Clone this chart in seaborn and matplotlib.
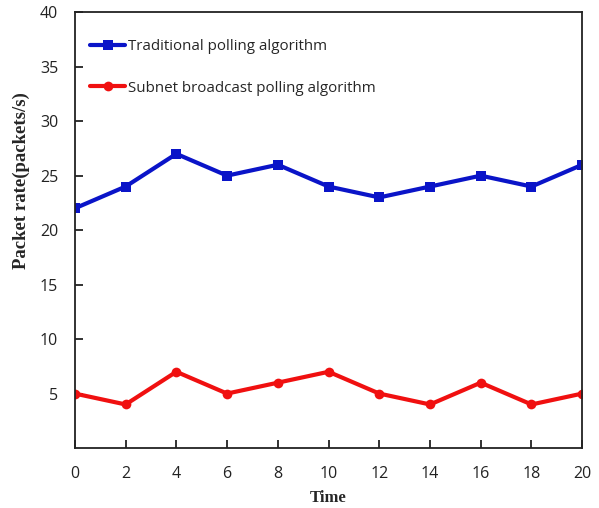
import matplotlib
matplotlib.use("Agg")
import matplotlib.pyplot as plt
import seaborn as sns
import pandas as pd

time = [0, 2, 4, 6, 8, 10, 12, 14, 16, 18, 20]
traditional = [22, 24, 27, 25, 26, 24, 23, 24, 25, 24, 26]
subnet = [5, 4, 7, 5, 6, 7, 5, 4, 6, 4, 5]
series_names = ["Traditional polling algorithm", "Subnet broadcast polling algorithm"]
x_ticks = [0, 2, 4, 6, 8, 10, 12, 14, 16, 18, 20]
y_ticks = [5, 10, 15, 20, 25, 30, 35, 40]

df = pd.DataFrame({
    "Time": time * 2,
    "Rate": traditional + subnet,
    "Series": [series_names[0]] * len(time) + [series_names[1]] * len(time),
})

sns.set_style("white")
plt.rcParams['font.family'] = ['Open Sans', 'DejaVu Sans']

fig = plt.figure(figsize=(5.99, 5.08), dpi=100)
ax = fig.add_axes([0.125, 0.118, 0.847, 0.858])

sns.lineplot(data=df, x="Time", y="Rate", hue="Series", style="Series",
             palette={series_names[0]: "#0a14c8", series_names[1]: "#f01010"},
             markers={series_names[0]: "s", series_names[1]: "o"},
             dashes=False, linewidth=3, markersize=7, markeredgewidth=0, ax=ax)

ax.set_xlim(0, 20)
ax.set_ylim(0, 40)
ax.set_xticks(x_ticks)
ax.set_yticks(y_ticks)
ax.tick_params(bottom=True, left=True, direction="in", length=6, width=1.3,
               labelsize=11.5, color="#222222", labelcolor="#222222")
ax.tick_params(axis="x", pad=13)
ax.tick_params(axis="y", pad=12)
for s in ax.spines.values():
    s.set_color("#222222")
    s.set_linewidth(1.3)

ax.set_xlabel("Time", fontfamily="Liberation Serif", fontweight="bold", fontsize=12, labelpad=6)
ax.set_ylabel("")
fig.text(0.036, 0.645, "Packet rate(packets/s)", rotation=90, ha="center", va="center",
         fontfamily="Liberation Serif", fontweight="bold", fontsize=13.5)

leg = ax.legend(loc="upper left", frameon=False, fontsize=10.9, handlelength=2.3,
                labelspacing=1.75, borderaxespad=0, borderpad=0, handletextpad=0.2,
                bbox_to_anchor=(0.03, 0.938))

fig.savefig("out.png", dpi=100)
